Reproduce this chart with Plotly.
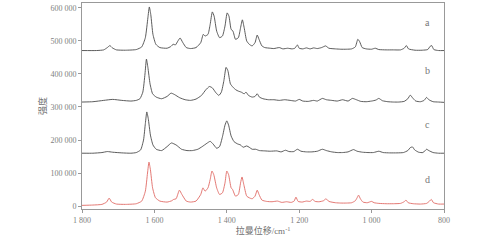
import plotly.graph_objects as go

# ---- data (wavenumber cm^-1, intensity) ----
a_x = [1800,1760,1740,1730,1723,1716,1705,1680,1650,1635,1625,1618,1614,1610,1604,1596,1585,1565,1555,1548,1542,1535,1529,1522,1512,1500,1485,1472,1465,1460,1452,1446,1440,1435,1428,1420,1412,1405,1399,1394,1388,1383,1376,1368,1362,1357,1352,1345,1338,1330,1322,1316,1311,1303,1295,1280,1270,1255,1245,1232,1220,1212,1205,1200,1190,1180,1170,1160,1150,1138,1127,1118,1100,1085,1070,1055,1045,1038,1033,1026,1015,1000,990,980,960,940,920,910,904,898,880,860,845,838,834,828,815,800]
a_y = [471000,471000,473000,480000,486000,479000,473000,472000,474000,482000,510000,570000,603000,580000,520000,490000,480000,478000,483000,490000,488000,500000,509000,496000,480000,477000,480000,495000,520000,515000,520000,550000,588000,575000,530000,510000,515000,545000,585000,575000,535000,530000,505000,510000,540000,564000,540000,500000,490000,485000,495000,518000,505000,485000,480000,478000,477000,480000,476000,478000,476000,478000,488000,478000,476000,479000,476000,479000,477000,480000,485000,478000,476000,475000,475000,476000,482000,505000,498000,480000,476000,475000,478000,474000,473000,473000,473000,478000,486000,476000,472000,472000,474000,484000,486000,474000,471000,471000]

b_x = [1800,1770,1740,1715,1690,1665,1650,1640,1632,1626,1622,1618,1612,1605,1595,1580,1565,1554,1545,1530,1515,1500,1485,1470,1458,1448,1440,1430,1422,1415,1408,1402,1397,1390,1383,1375,1368,1360,1352,1347,1340,1330,1322,1316,1310,1300,1285,1270,1255,1240,1225,1210,1200,1190,1175,1160,1150,1136,1125,1110,1095,1080,1065,1053,1042,1030,1015,1000,988,980,970,955,940,925,910,900,893,887,878,865,855,848,842,830,815,800]
b_y = [315000,316000,320000,323000,320000,318000,320000,325000,345000,400000,445000,420000,370000,340000,330000,325000,332000,342000,338000,328000,322000,320000,324000,335000,352000,362000,358000,343000,335000,345000,380000,420000,410000,370000,360000,352000,348000,345000,340000,345000,335000,330000,332000,340000,330000,325000,322000,322000,320000,322000,320000,318000,323000,318000,317000,320000,318000,326000,322000,320000,318000,322000,318000,326000,322000,317000,316000,318000,321000,326000,319000,316000,315000,315000,317000,325000,336000,328000,318000,316000,320000,329000,322000,316000,315000,314000]

c_x = [1800,1770,1745,1730,1715,1690,1665,1650,1638,1630,1625,1621,1617,1611,1604,1595,1580,1565,1553,1540,1525,1510,1495,1480,1468,1455,1446,1438,1428,1420,1412,1405,1400,1395,1388,1380,1370,1362,1355,1345,1338,1330,1320,1310,1295,1280,1262,1250,1238,1228,1215,1205,1195,1180,1165,1150,1136,1125,1110,1095,1080,1065,1050,1040,1025,1010,995,980,968,950,930,912,900,893,887,881,870,858,848,842,830,815,800]
c_y = [160000,160000,162000,165000,163000,161000,160000,162000,170000,200000,250000,285000,265000,215000,185000,172000,168000,180000,191000,185000,172000,168000,168000,172000,180000,190000,196000,188000,175000,180000,210000,245000,258000,245000,212000,195000,188000,185000,178000,182000,178000,172000,172000,168000,167000,166000,167000,164000,169000,165000,165000,172000,166000,164000,164000,166000,172000,168000,164000,162000,162000,164000,171000,166000,163000,162000,162000,166000,162000,161000,161000,162000,168000,177000,179000,170000,163000,162000,172000,168000,162000,160000,160000]

d_x = [1800,1770,1745,1732,1725,1718,1705,1680,1650,1635,1625,1619,1615,1611,1605,1597,1585,1565,1552,1547,1540,1531,1524,1512,1500,1485,1472,1466,1460,1452,1446,1441,1436,1428,1420,1412,1405,1400,1395,1388,1384,1376,1368,1362,1358,1353,1345,1338,1330,1322,1316,1311,1303,1290,1275,1260,1248,1235,1222,1214,1209,1203,1192,1180,1170,1163,1156,1145,1133,1126,1118,1100,1085,1070,1055,1045,1040,1036,1031,1024,1012,1000,993,980,960,940,920,910,905,899,885,865,848,840,835,829,815,800]
d_y = [2000,3000,5000,12000,24000,12000,6000,5000,7000,15000,45000,100000,133000,110000,55000,25000,15000,12000,16000,20000,22000,48000,35000,15000,12000,15000,35000,55000,45000,55000,80000,106000,95000,55000,35000,40000,70000,106000,95000,55000,50000,30000,35000,70000,88000,65000,30000,25000,22000,30000,48000,35000,18000,14000,13000,15000,11000,13000,11000,15000,27000,14000,12000,15000,14000,20000,14000,13000,16000,22000,14000,10000,9000,9000,10000,16000,25000,33000,22000,12000,10000,14000,10000,8000,7000,7000,8000,13000,18000,10000,7000,6000,8000,15000,20000,10000,6000,6000]

labels = ["a", "b", "c", "d"]
label_y = [557000, 412000, 248000, 79000]
label_x = 846

x_ticks = [1800, 1600, 1400, 1200, 1000, 800]
x_tick_text = ["1 800", "1 600", "1 400", "1 200", "1 000", "800"]
y_ticks = [0, 100000, 200000, 300000, 400000, 500000, 600000]
y_tick_text = ["0", "100 000", "200 000", "300 000", "400 000", "500 000", "600 000"]

series = [(a_x, a_y, "#4a4a4a"), (b_x, b_y, "#4a4a4a"), (c_x, c_y, "#4a4a4a"), (d_x, d_y, "#e06a64")]

fig = go.Figure()
for xs, ys, col in series:
    fig.add_trace(go.Scatter(x=xs, y=ys, mode="lines",
                             line=dict(color=col, width=0.9, shape="spline", smoothing=0.5),
                             showlegend=False, hoverinfo="skip"))

for lab, ly in zip(labels, label_y):
    fig.add_annotation(x=label_x, y=ly, text=lab, showarrow=False,
                       font=dict(family="Liberation Serif", size=10, color="#777"))

font_fam = "Liberation Serif, Noto Sans CJK SC"
fig.update_layout(
    width=477, height=243,
    margin=dict(l=82, r=33, t=3, b=34),
    paper_bgcolor="white", plot_bgcolor="white",
    font=dict(family=font_fam, size=8, color="#808080"),
)
fig.update_xaxes(range=[1800, 800], tickvals=x_ticks, ticktext=x_tick_text,
                 showline=True, linecolor="#999", linewidth=1, mirror=True,
                 ticks="outside", ticklen=3, tickcolor="#999", showgrid=False, zeroline=False,
                 title=dict(text="拉曼位移/cm<sup>-1</sup>", font=dict(family=font_fam, size=9, color="#707070"), standoff=2))
fig.update_yaxes(range=[-9000, 615000], tickvals=y_ticks, ticktext=y_tick_text,
                 showline=True, linecolor="#999", linewidth=1, mirror=True,
                 ticks="outside", ticklen=3, tickcolor="#999", showgrid=False, zeroline=False,
                 title=dict(text="强度", font=dict(family=font_fam, size=9, color="#707070"), standoff=2))

fig.write_html("out.html")
